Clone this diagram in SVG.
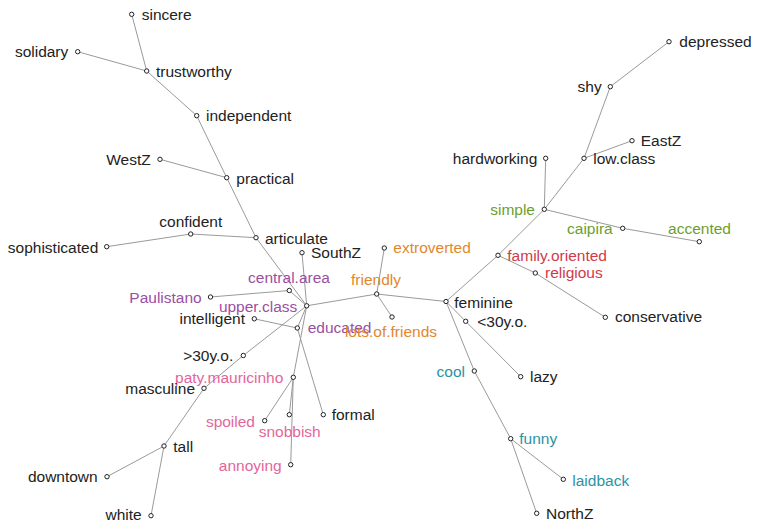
<svg xmlns="http://www.w3.org/2000/svg" width="757" height="525" viewBox="0 0 757 525">
  <style>
    text { font-family: "Liberation Sans", Arial, sans-serif; font-size: 15.5px; fill: #222; }
    .e { text-anchor: end; }
    .m { text-anchor: middle; }
    .pur { fill: #9a4fa3; }
    .org { fill: #e5862c; }
    .pnk { fill: #e2669c; }
    .grn { fill: #6c9f2c; }
    .red { fill: #cf3a4b; }
    .tea { fill: #2b93a3; }
    #edges line { stroke: #9a9a9a; stroke-width: 1; }
    .n circle { fill: #fff; stroke: #222; stroke-width: 1; }
  </style>
  <rect width="757" height="525" fill="#fff"/>

  <g id="edges">
    <line x1="146.7" y1="71" x2="131.7" y2="14.3"/>
    <line x1="146.7" y1="71" x2="77.7" y2="51.7"/>
    <line x1="146.7" y1="71" x2="196.7" y2="115.7"/>
    <line x1="196.7" y1="115.7" x2="226.7" y2="177.7"/>
    <line x1="160" y1="159.3" x2="226.7" y2="177.7"/>
    <line x1="226.7" y1="177.7" x2="256" y2="237.7"/>
    <line x1="106.7" y1="246.7" x2="190.7" y2="234"/>
    <line x1="190.7" y1="234" x2="256" y2="237.7"/>
    <line x1="256" y1="237.7" x2="306.7" y2="305.8"/>
    <line x1="302" y1="252.7" x2="306.7" y2="305.8"/>
    <line x1="210.5" y1="297" x2="289.3" y2="290.5"/>
    <line x1="289.3" y1="290.5" x2="306.7" y2="305.8"/>
    <line x1="254.3" y1="318.8" x2="297.3" y2="328"/>
    <line x1="297.3" y1="328" x2="306.7" y2="305.8"/>
    <line x1="306.7" y1="305.8" x2="243.3" y2="355.5"/>
    <line x1="243.3" y1="355.5" x2="204" y2="388.3"/>
    <line x1="204" y1="388.3" x2="164" y2="446"/>
    <line x1="164" y1="446" x2="107" y2="476.7"/>
    <line x1="164" y1="446" x2="151" y2="515.7"/>
    <line x1="306.7" y1="305.8" x2="293.3" y2="377.3"/>
    <line x1="293.3" y1="377.3" x2="264.7" y2="420.7"/>
    <line x1="293.3" y1="377.3" x2="289.3" y2="414.7"/>
    <line x1="293.3" y1="377.3" x2="290.7" y2="464.7"/>
    <line x1="297.3" y1="328" x2="323.3" y2="414.7"/>
    <line x1="306.7" y1="305.8" x2="376.7" y2="294"/>
    <line x1="376.7" y1="294" x2="384.3" y2="248"/>
    <line x1="376.7" y1="294" x2="392" y2="317"/>
    <line x1="376.7" y1="294" x2="446" y2="301.5"/>
    <line x1="446" y1="301.5" x2="498" y2="255.3"/>
    <line x1="498" y1="255.3" x2="535.3" y2="273"/>
    <line x1="535.3" y1="273" x2="605.3" y2="317.3"/>
    <line x1="498" y1="255.3" x2="544.3" y2="209.3"/>
    <line x1="544.3" y1="209.3" x2="545.7" y2="158.3"/>
    <line x1="544.3" y1="209.3" x2="584" y2="158.3"/>
    <line x1="584" y1="158.3" x2="632" y2="140.7"/>
    <line x1="584" y1="158.3" x2="610.3" y2="86.7"/>
    <line x1="610.3" y1="86.7" x2="669" y2="41.7"/>
    <line x1="544.3" y1="209.3" x2="622.7" y2="228.3"/>
    <line x1="622.7" y1="228.3" x2="699.3" y2="241.7"/>
    <line x1="446" y1="301.5" x2="465.7" y2="321.3"/>
    <line x1="465.7" y1="321.3" x2="520.7" y2="376.7"/>
    <line x1="446" y1="301.5" x2="474.3" y2="371"/>
    <line x1="474.3" y1="371" x2="510.7" y2="438.7"/>
    <line x1="510.7" y1="438.7" x2="563.3" y2="479.3"/>
    <line x1="510.7" y1="438.7" x2="536.7" y2="513.3"/>
  </g>

  <!-- upper-left branch -->
  <g id="sincere" class="n"><circle cx="131.7" cy="14.3" r="2.2"/><text x="141.7" y="20.3">sincere</text></g>
  <g id="solidary" class="n"><circle cx="77.7" cy="51.7" r="2.2"/><text class="e" x="68.3" y="57">solidary</text></g>
  <g id="trustworthy" class="n"><circle cx="146.7" cy="71" r="2.2"/><text x="156" y="77">trustworthy</text></g>
  <g id="independent" class="n"><circle cx="196.7" cy="115.7" r="2.2"/><text x="206" y="121">independent</text></g>
  <g id="WestZ" class="n"><circle cx="160" cy="159.3" r="2.2"/><text class="e" x="150.7" y="165">WestZ</text></g>
  <g id="practical" class="n"><circle cx="226.7" cy="177.7" r="2.2"/><text x="236.3" y="184">practical</text></g>
  <g id="confident" class="n"><circle cx="190.7" cy="234" r="2.2"/><text class="m" x="190.8" y="226.7">confident</text></g>
  <g id="sophisticated" class="n"><circle cx="106.7" cy="246.7" r="2.2"/><text class="e" x="98.3" y="252.5">sophisticated</text></g>
  <g id="articulate" class="n"><circle cx="256" cy="237.7" r="2.2"/><text x="265" y="243.5">articulate</text></g>
  <g id="SouthZ" class="n"><circle cx="302" cy="252.7" r="2.2"/><text x="311" y="258.3">SouthZ</text></g>

  <!-- central cluster -->
  <g id="central_area" class="n"><circle cx="289.3" cy="290.5" r="2.2"/><text class="m pur" x="289" y="283.3">central.area</text></g>
  <g id="Paulistano" class="n"><circle cx="210.5" cy="297" r="2.2"/><text class="e pur" x="201.7" y="302.5">Paulistano</text></g>
  <g id="upper_class" class="n"><circle cx="306.7" cy="305.8" r="2.2"/><text class="e pur" x="297.3" y="311.7">upper.class</text></g>
  <g id="intelligent" class="n"><circle cx="254.3" cy="318.8" r="2.2"/><text class="e" x="245" y="324">intelligent</text></g>
  <g id="educated" class="n"><circle cx="297.3" cy="328" r="2.2"/><text class="pur" x="307.7" y="333">educated</text></g>

  <!-- lower-left branch -->
  <g id="over30" class="n"><circle cx="243.3" cy="355.5" r="2.2"/><text class="e" x="233.3" y="360.7">&gt;30y.o.</text></g>
  <g id="paty_mauricinho" class="n"><circle cx="293.3" cy="377.3" r="2.2"/><text class="e pnk" x="283.3" y="382.7">paty.mauricinho</text></g>
  <g id="masculine" class="n"><circle cx="204" cy="388.3" r="2.2"/><text class="e" x="195" y="394.3">masculine</text></g>
  <g id="spoiled" class="n"><circle cx="264.7" cy="420.7" r="2.2"/><text class="e pnk" x="255" y="427.3">spoiled</text></g>
  <g id="snobbish" class="n"><circle cx="289.3" cy="414.7" r="2.2"/><text class="m pnk" x="289.7" y="436.7">snobbish</text></g>
  <g id="formal" class="n"><circle cx="323.3" cy="414.7" r="2.2"/><text x="331.7" y="420">formal</text></g>
  <g id="tall" class="n"><circle cx="164" cy="446" r="2.2"/><text x="173.3" y="451.7">tall</text></g>
  <g id="annoying" class="n"><circle cx="290.7" cy="464.7" r="2.2"/><text class="e pnk" x="281.7" y="471">annoying</text></g>
  <g id="downtown" class="n"><circle cx="107" cy="476.7" r="2.2"/><text class="e" x="97.7" y="481.7">downtown</text></g>
  <g id="white" class="n"><circle cx="151" cy="515.7" r="2.2"/><text class="e" x="141.7" y="520">white</text></g>

  <!-- middle -->
  <g id="friendly" class="n"><circle cx="376.7" cy="294" r="2.2"/><text class="m org" x="376" y="285">friendly</text></g>
  <g id="extroverted" class="n"><circle cx="384.3" cy="248" r="2.2"/><text class="org" x="393.3" y="253.3">extroverted</text></g>
  <g id="lots_of_friends" class="n"><circle cx="392" cy="317" r="2.2"/><text class="m org" x="391" y="337.3">lots.of.friends</text></g>
  <g id="feminine" class="n"><circle cx="446" cy="301.5" r="2.2"/><text x="454.3" y="307.5">feminine</text></g>

  <!-- upper-right branch -->
  <g id="family_oriented" class="n"><circle cx="498" cy="255.3" r="2.2"/><text class="red" x="507.3" y="260.5">family.oriented</text></g>
  <g id="religious" class="n"><circle cx="535.3" cy="273" r="2.2"/><text class="red" x="545" y="278.3">religious</text></g>
  <g id="conservative" class="n"><circle cx="605.3" cy="317.3" r="2.2"/><text x="615" y="322.3">conservative</text></g>
  <g id="simple" class="n"><circle cx="544.3" cy="209.3" r="2.2"/><text class="e grn" x="535" y="214.5">simple</text></g>
  <g id="hardworking" class="n"><circle cx="545.7" cy="158.3" r="2.2"/><text class="e" x="537.3" y="163.7">hardworking</text></g>
  <g id="low_class" class="n"><circle cx="584" cy="158.3" r="2.2"/><text x="593.3" y="163.7">low.class</text></g>
  <g id="EastZ" class="n"><circle cx="632" cy="140.7" r="2.2"/><text x="640.7" y="146.3">EastZ</text></g>
  <g id="shy" class="n"><circle cx="610.3" cy="86.7" r="2.2"/><text class="e" x="601.7" y="92.3">shy</text></g>
  <g id="depressed" class="n"><circle cx="669" cy="41.7" r="2.2"/><text x="679.3" y="46.7">depressed</text></g>
  <g id="caipira" class="n"><circle cx="622.7" cy="228.3" r="2.2"/><text class="e grn" x="612.7" y="233.5">caipira</text></g>
  <g id="accented" class="n"><circle cx="699.3" cy="241.7" r="2.2"/><text class="m grn" x="699.5" y="234">accented</text></g>

  <!-- lower-right branch -->
  <g id="under30" class="n"><circle cx="465.7" cy="321.3" r="2.2"/><text x="477.3" y="327.3">&lt;30y.o.</text></g>
  <g id="lazy" class="n"><circle cx="520.7" cy="376.7" r="2.2"/><text x="530" y="382">lazy</text></g>
  <g id="cool" class="n"><circle cx="474.3" cy="371" r="2.2"/><text class="e tea" x="465" y="376.7">cool</text></g>
  <g id="funny" class="n"><circle cx="510.7" cy="438.7" r="2.2"/><text class="tea" x="519.3" y="444">funny</text></g>
  <g id="laidback" class="n"><circle cx="563.3" cy="479.3" r="2.2"/><text class="tea" x="572.3" y="485.5">laidback</text></g>
  <g id="NorthZ" class="n"><circle cx="536.7" cy="513.3" r="2.2"/><text x="546" y="519">NorthZ</text></g>
</svg>
